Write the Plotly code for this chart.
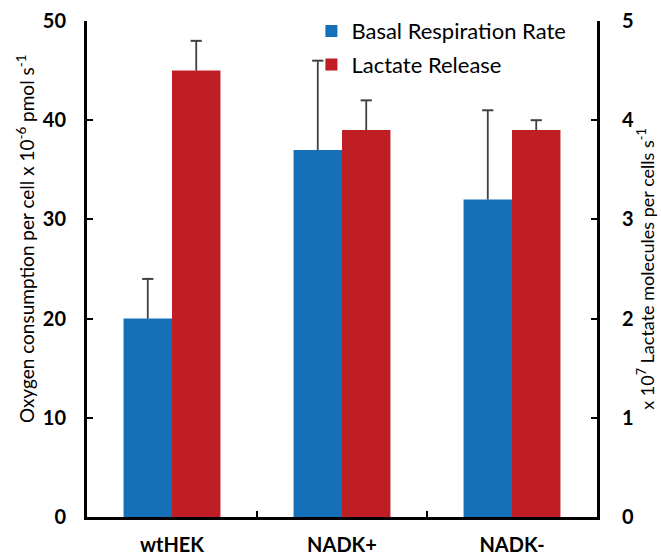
import plotly.graph_objects as go

categories = ["wtHEK", "NADK+", "NADK-"]
basal_resp = [20, 37, 32]
basal_err = [4, 9, 9]
lactate = [4.5, 3.9, 3.9]
lactate_err = [0.3, 0.3, 0.1]

blue = "#1670B8"
red = "#BE1E24"
err_color = "#404040"
font_family = "Lato, Open Sans, sans-serif"

fig = go.Figure()
fig.add_trace(go.Bar(
    x=categories, y=basal_resp, name="Basal Respiration Rate", legendgroup="a",
    marker=dict(color=blue, line=dict(width=0)), offsetgroup="1", yaxis="y",
    error_y=dict(type="data", symmetric=False, array=basal_err,
                 arrayminus=[0, 0, 0], color=err_color, thickness=1.8, width=0),
))
fig.add_trace(go.Bar(
    x=categories, y=lactate, name="Lactate Release", legendgroup="b",
    marker=dict(color=red, line=dict(width=0)), offsetgroup="2", yaxis="y2",
    error_y=dict(type="data", symmetric=False, array=lactate_err,
                 arrayminus=[0, 0, 0], color=err_color, thickness=1.8, width=0),
))
# caps at the top of the error bars
fig.add_trace(go.Scatter(
    x=categories, y=[v + e for v, e in zip(basal_resp, basal_err)],
    mode="markers", offsetgroup="1", yaxis="y", showlegend=False, hoverinfo="skip",
    marker=dict(symbol="line-ew", size=8, line=dict(width=2, color=err_color)),
))
fig.add_trace(go.Scatter(
    x=categories, y=[v + e for v, e in zip(lactate, lactate_err)],
    mode="markers", offsetgroup="2", yaxis="y2", showlegend=False, hoverinfo="skip",
    marker=dict(symbol="line-ew", size=8, line=dict(width=2, color=err_color)),
))

axis_common = dict(showline=True, linecolor="black", linewidth=3, ticks="inside",
                   ticklen=6, tickwidth=2, tickcolor="black", showgrid=False,
                   zeroline=False, mirror=False, automargin=False)

fig.update_layout(
    width=661, height=559,
    margin=dict(l=87, r=64, t=21, b=42, autoexpand=False),
    paper_bgcolor="white", plot_bgcolor="white",
    barmode="group", bargap=0.43, bargroupgap=0,
    scattermode="group", scattergap=0.43,
    font=dict(family=font_family, color="black"),
    xaxis=dict(**axis_common, tickson="boundaries",
               tickfont=dict(size=20, family=font_family, weight="bold"),
               ticklabelstandoff=8),
    yaxis=dict(**axis_common, range=[0, 50], dtick=10,
               tickfont=dict(size=20, family=font_family, weight="bold"),
               ticklabelstandoff=14),
    yaxis2=dict(**axis_common, range=[0, 5], dtick=1, overlaying="y", side="right",
                tickfont=dict(size=20, family=font_family, weight="bold"),
                ticklabelstandoff=18,
                title=dict(text="x 10<sup>7</sup> Lactate molecules per cells s<sup>-1</sup>",
                           font=dict(size=18, family=font_family), standoff=4)),
    legend=dict(x=0.44, y=1.022, xanchor="left", yanchor="top",
                bgcolor="rgba(0,0,0,0)", font=dict(size=22, family=font_family),
                itemwidth=30, tracegroupgap=2),
    showlegend=True,
)

fig.add_annotation(text="Oxygen consumption per cell x 10<sup>-6</sup> pmol s<sup>-1</sup>",
                   xref="paper", yref="paper", x=-0.122, y=0.56, textangle=-90,
                   showarrow=False, font=dict(size=19, family=font_family),
                   xanchor="center", yanchor="middle")

fig.write_html("out.html", config={"displayModeBar": False},
               post_script="document.body.style.margin='0';")
